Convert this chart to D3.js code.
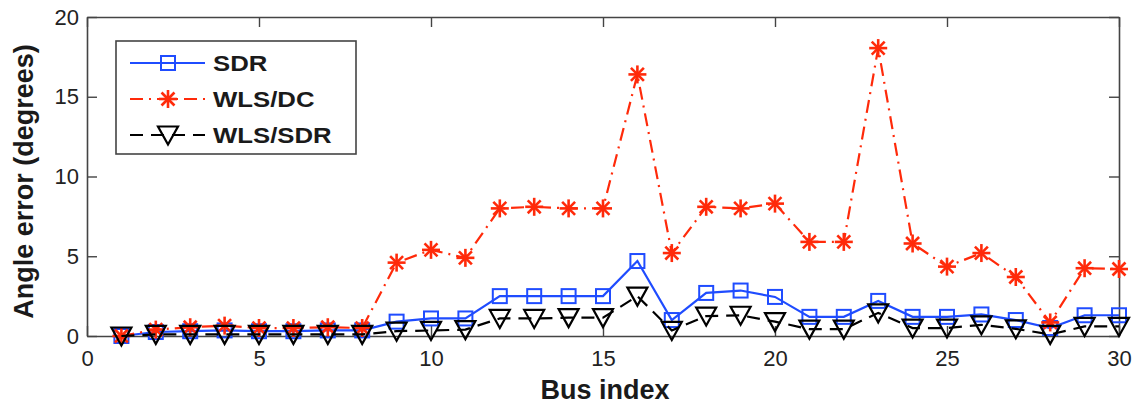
<!DOCTYPE html>
<html>
<head>
<meta charset="utf-8">
<script src="https://cdn.jsdelivr.net/npm/d3@7"></script>
<style>
  html, body { margin: 0; padding: 0; background: #fff; }
  svg { display: block; }
  text { font-family: "Liberation Sans", Arial, Helvetica, sans-serif; }
</style>
</head>
<body>
<svg id="chart" width="1134" height="404"></svg>
<script>
// Bus indices and angle errors (degrees) per estimator
const busIndex = [1,2,3,4,5,6,7,8,9,10,11,12,13,14,15,16,17,18,19,20,21,22,23,24,25,26,27,28,29,30];
const sdr    = [0.0,0.25,0.3,0.35,0.3,0.3,0.35,0.35,0.9,1.1,1.1,2.5,2.5,2.5,2.5,4.7,1.0,2.7,2.85,2.45,1.2,1.2,2.2,1.2,1.2,1.35,1.0,0.5,1.3,1.3];
const wlsDc  = [0.0,0.4,0.55,0.65,0.5,0.5,0.55,0.5,4.6,5.4,4.9,8.0,8.1,8.0,8.0,16.4,5.2,8.1,8.0,8.3,5.9,5.9,18.05,5.8,4.35,5.2,3.7,0.85,4.25,4.2];
const wlsSdr = [0.0,0.1,0.1,0.1,0.1,0.1,0.1,0.1,0.3,0.35,0.4,1.1,1.1,1.15,1.15,2.5,0.35,1.25,1.3,0.9,0.43,0.43,1.45,0.5,0.5,0.7,0.45,0.1,0.6,0.6];
const xTicks = [0,5,10,15,20,25,30];
const yTicks = [0,5,10,15,20];
const seriesNames = ["SDR", "WLS/DC", "WLS/SDR"];

const svg = d3.select("#chart");
const plotLeft = 87, plotRight = 1119, plotTop = 17, plotBottom = 336;

const x = d3.scaleLinear().domain([0, 30]).range([plotLeft, plotRight]);
const y = d3.scaleLinear().domain([0, 20]).range([plotBottom, plotTop]);

const axisColor = "#444";
const tickLen = 10;

// Plot frame with inward ticks on all four sides
const axB = svg.append("g").attr("transform", `translate(0,${plotBottom})`)
  .call(d3.axisBottom(x).tickValues(xTicks).tickSizeInner(-tickLen).tickSizeOuter(0).tickPadding(14));
const axL = svg.append("g").attr("transform", `translate(${plotLeft},0)`)
  .call(d3.axisLeft(y).tickValues(yTicks).tickSizeInner(-tickLen).tickSizeOuter(0).tickPadding(8));
const axT = svg.append("g").attr("transform", `translate(0,${plotTop})`)
  .call(d3.axisTop(x).tickValues(xTicks).tickSizeInner(-tickLen).tickSizeOuter(0).tickFormat(""));
const axR = svg.append("g").attr("transform", `translate(${plotRight},0)`)
  .call(d3.axisRight(y).tickValues(yTicks).tickSizeInner(-tickLen).tickSizeOuter(0).tickFormat(""));

[axB, axL, axT, axR].forEach(g => {
  g.select(".domain").attr("stroke", axisColor).attr("stroke-width", 1.6);
  g.selectAll(".tick line").attr("stroke", axisColor).attr("stroke-width", 1.4);
  g.selectAll(".tick text").attr("fill", "#222").attr("font-size", 22).attr("font-family", "Liberation Sans, Arial, sans-serif");
});

// Axis titles
svg.append("text")
  .attr("x", (plotLeft + plotRight) / 2 + 2).attr("y", 399)
  .attr("text-anchor", "middle").attr("font-size", 27).attr("font-weight", "bold").attr("fill", "#1a1a1a")
  .text("Bus index");
svg.append("text")
  .attr("transform", `translate(33,${(plotTop + plotBottom) / 2 + 5}) rotate(-90)`)
  .attr("text-anchor", "middle").attr("font-size", 27).attr("font-weight", "bold").attr("fill", "#1a1a1a")
  .text("Angle error (degrees)");

// Marker shapes
const markerSquare = (g, cx, cy, color) =>
  g.append("rect").attr("x", cx - 7).attr("y", cy - 7).attr("width", 14).attr("height", 14)
    .attr("fill", "none").attr("stroke", color).attr("stroke-width", 2);
const markerStar = (g, cx, cy, color) => {
  const r = 9, d = r * 0.72;
  const segs = [[-r,0,r,0],[0,-r,0,r],[-d,-d,d,d],[-d,d,d,-d]];
  segs.forEach(s => g.append("line")
    .attr("x1", cx + s[0]).attr("y1", cy + s[1]).attr("x2", cx + s[2]).attr("y2", cy + s[3])
    .attr("stroke", color).attr("stroke-width", 2.6));
};
const markerTri = (g, cx, cy, color) =>
  g.append("path")
    .attr("d", `M${cx - 10},${cy - 8.5}L${cx + 10},${cy - 8.5}L${cx},${cy + 9.5}Z`)
    .attr("fill", "none").attr("stroke", color).attr("stroke-width", 2.2).attr("stroke-linejoin", "miter");

const series = [
  { name: seriesNames[0], values: sdr,    color: "#1f4cff", dash: null,        marker: markerSquare },
  { name: seriesNames[1], values: wlsDc,  color: "#ff2a0a", dash: "13,6,2,6",  marker: markerStar },
  { name: seriesNames[2], values: wlsSdr, color: "#000000", dash: "13,8",      marker: markerTri }
];

const line = d3.line().x(d => x(d[0])).y(d => y(d[1]));

series.forEach(s => {
  const pts = busIndex.map((b, i) => [b, s.values[i]]);
  const g = svg.append("g");
  g.append("path").attr("d", line(pts)).attr("fill", "none")
    .attr("stroke", s.color).attr("stroke-width", 2.2)
    .attr("stroke-dasharray", s.dash);
  pts.forEach(p => s.marker(g, x(p[0]), y(p[1]), s.color));
});

// Legend
const lg = svg.append("g");
lg.append("rect").attr("x", 116).attr("y", 41).attr("width", 240).attr("height", 113)
  .attr("fill", "#fff").attr("stroke", axisColor).attr("stroke-width", 1.6);
series.forEach((s, i) => {
  const ly = 63 + i * 36;
  lg.append("line").attr("x1", 130).attr("x2", 205).attr("y1", ly).attr("y2", ly)
    .attr("stroke", s.color).attr("stroke-width", 2.2).attr("stroke-dasharray", s.dash);
  s.marker(lg, 168, ly, s.color);
  lg.append("text")
    .attr("transform", `translate(213,${ly + 8}) scale(1.12,1)`)
    .attr("font-size", 23).attr("font-weight", "bold").attr("fill", "#1a1a1a")
    .text(s.name);
});
</script>
</body>
</html>
